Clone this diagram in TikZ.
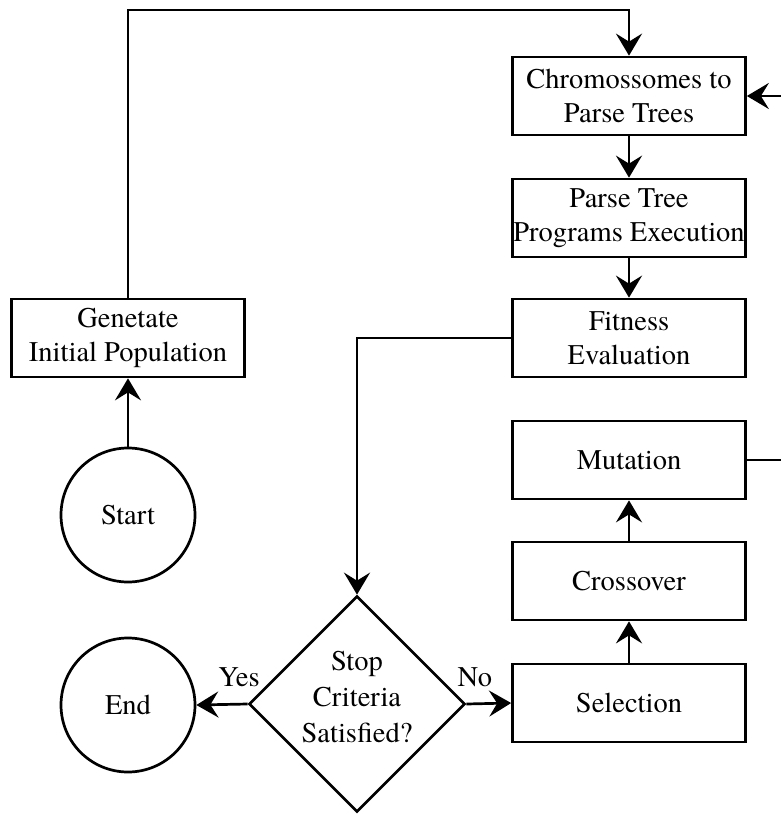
\documentclass[tikz,border=0pt]{standalone}
\usepackage{fontspec}
\newfontfamily\diagfont{TeX Gyre Termes}
\usetikzlibrary{arrows.meta,shapes.geometric}
\begin{document}
\begin{tikzpicture}[x=1pt,y=-1pt,
  line width=2.7pt,
  every node/.style={font=\diagfont\fontsize{28.5}{34}\selectfont},
  proc/.style={draw, rectangle, minimum width=233pt, minimum height=78pt, inner sep=0pt, align=center},
  term/.style={draw, circle, minimum size=134pt, inner sep=0pt},
  decide/.style={draw, diamond, minimum width=216pt, minimum height=216pt, inner sep=0pt},
  decidetext/.style={align=center, inner sep=0pt, font=\diagfont\fontsize{28.5}{36}\selectfont},
  flow/.style={-{Stealth[length=22pt,width=26pt,inset=8pt]}},
  lbl/.style={inner sep=0pt}
]
\useasboundingbox (0,0) rectangle (781,814);
\clip (0,0) rectangle (781,814);

% process boxes
\node[proc] (chrom) at (629,96) {Chromossomes to\\Parse Trees};
\node[proc] (exec) at (629,218) {Parse Tree\\Programs Execution};
\node[proc] (fit) at (629,338) {Fitness\\Evaluation};
\node[proc] (mut) at (629,460) {Mutation};
\node[proc] (cross) at (629,581) {Crossover};
\node[proc] (sel) at (629,703) {Selection};
\node[proc] (gen) at (128,338) {Genetate\\Initial Population};

% terminals
\node[term] (start) at (128,515) {Start};
\node[term] (end) at (128,705) {End};

% decision
\node[decide] (stop) at (357,704) {};
\node[decidetext] (stoptext) at (357,697) {Stop\\Criteria\\Satisfied?};

% return path of the loop, running past the right edge
\coordinate (loopA) at (800,460);
\coordinate (loopB) at (800,96);

\draw[flow] (start) -- (gen);
\draw[flow] (gen.north) |- (368,10) -| (chrom.north);
\draw[flow] (chrom) -- (exec);
\draw[flow] (exec) -- (fit);
\draw[flow] (fit.west) -| (stop.north);
\draw[flow] (stop.east) -- (sel.west) node[lbl, pos=0.19, above=16pt] {No};
\draw[flow] (stop.west) -- (end.east) node[lbl, pos=0.17, above=16pt] {Yes};
\draw[flow] (sel) -- (cross);
\draw[flow] (cross) -- (mut);
\draw[flow] (mut.east) -- (loopA) -- (loopB) -- (chrom.east);
\end{tikzpicture}
\end{document}
